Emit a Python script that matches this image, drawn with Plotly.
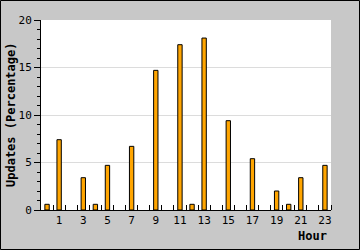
import plotly.graph_objects as go

hours = list(range(24))
updates = [0.6, 7.4, 0, 3.4, 0.6, 4.7, 0, 6.7, 0, 14.7, 0, 17.4, 0.6, 18.1, 0,
           9.4, 0, 5.4, 0, 2.0, 0.6, 3.4, 0, 4.7]
x_tick_labels = [str(h) for h in range(1, 24, 2)]
y_ticks = [0, 5, 10, 15, 20]

W, H = 360, 250
L, R, T, B = 41, 29, 20, 40
pw, ph = W - L - R, H - T - B

xs = [h for h, v in zip(hours, updates) if v > 0]
ys = [v for v in updates if v > 0]

font = "DejaVu Sans Mono"
fig = go.Figure(go.Bar(
    x=xs, y=ys, width=0.36,
    marker=dict(color="#FFA500", line=dict(color="black", width=1)),
))

fig.update_layout(
    width=W, height=H,
    margin=dict(l=L, r=R, t=T, b=B, pad=0),
    paper_bgcolor="#c8c8c8", plot_bgcolor="white",
    showlegend=False,
    font=dict(family=font, size=11, color="black"),
    xaxis=dict(
        range=[-0.5, 23.5],
        tickmode="array", tickvals=[int(t) for t in x_tick_labels], ticktext=x_tick_labels,
        ticks="", showgrid=False, zeroline=False,
        showline=True, linecolor="black", linewidth=1,
        minor=dict(tickmode="array", tickvals=[h + 0.5 for h in hours],
                   ticks="inside", ticklen=5, tickcolor="black", tickwidth=1, showgrid=False),
        tickfont=dict(family=font, size=11),
    ),
    yaxis=dict(
        range=[0, 20],
        tickmode="array", tickvals=y_ticks,
        ticks="outside", ticklen=6, tickcolor="black", tickwidth=1,
        showgrid=True, gridcolor="#dcdcdc", gridwidth=1, zeroline=False,
        showline=True, linecolor="black", linewidth=1,
        minor=dict(dtick=1, tick0=0, ticks="outside", ticklen=3, tickcolor="black", showgrid=False),
        tickfont=dict(family=font, size=11),
    ),
    annotations=[
        dict(text="<b>Hour</b>", xref="paper", yref="paper", x=(pw - 2) / pw, y=-(236 - 210) / ph,
             xanchor="right", yanchor="middle", showarrow=False, font=dict(family=font, size=12)),
        dict(text="<b>Updates (Percentage)</b>", xref="paper", yref="paper",
             x=-(L - 11) / pw, y=0.5, textangle=-90, xanchor="center", yanchor="middle",
             showarrow=False, font=dict(family=font, size=12)),
    ],
    shapes=[
        dict(type="rect", xref="paper", yref="paper",
             x0=-(L - 0.5) / pw, x1=1 + (R - 0.5) / pw,
             y0=-(B - 0.5) / ph, y1=1 + (T - 0.5) / ph,
             line=dict(color="black", width=1), fillcolor="rgba(0,0,0,0)", layer="above"),
    ],
)

fig.write_html("out.html")
